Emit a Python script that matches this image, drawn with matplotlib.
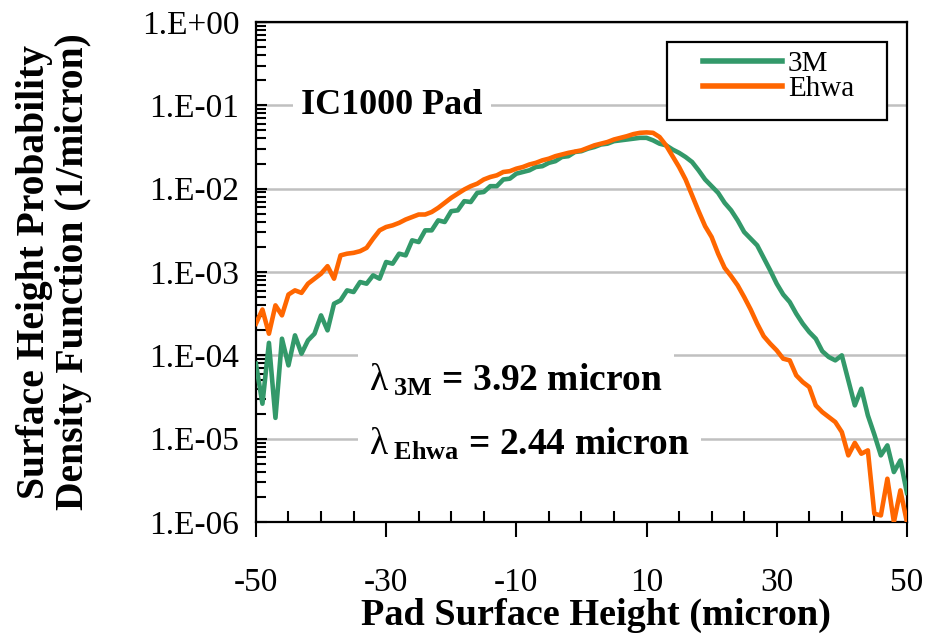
import numpy as np
import matplotlib
matplotlib.use("Agg")
from matplotlib import pyplot as plt
from matplotlib.patches import Rectangle
from matplotlib.ticker import FixedLocator, MultipleLocator, LogLocator, NullFormatter

plt.rcParams['font.family'] = ['Liberation Serif', 'DejaVu Serif']
plt.rcParams['axes.unicode_minus'] = False
plt.rcParams['mathtext.fontset'] = 'custom'
plt.rcParams['mathtext.rm'] = 'Liberation Serif'
plt.rcParams['mathtext.bf'] = 'Liberation Serif:bold'
plt.rcParams['mathtext.it'] = 'Liberation Serif:italic'

# pad surface height (micron)
height = np.arange(-50, 51, 1)

# log10 of the probability density (1/micron)
log_ehwa = [-3.62, -3.45, -3.74, -3.40, -3.52, -3.27, -3.22, -3.25, -3.14, -3.08,
            -3.02, -2.93, -3.08, -2.80, -2.78, -2.77, -2.75, -2.71, -2.60, -2.50,
            -2.46, -2.44, -2.41, -2.37, -2.34, -2.31, -2.31, -2.28, -2.23, -2.17,
            -2.11, -2.06, -2.01, -1.97, -1.94, -1.89, -1.86, -1.84, -1.80, -1.79,
            -1.76, -1.74, -1.71, -1.69, -1.66, -1.64, -1.61, -1.59, -1.57, -1.555,
            -1.54, -1.51, -1.48, -1.46, -1.44, -1.41, -1.39, -1.37, -1.345, -1.33,
            -1.325, -1.33, -1.38, -1.48, -1.61, -1.74, -1.89, -2.08, -2.27, -2.45,
            -2.58, -2.78, -2.95, -3.05, -3.16, -3.30, -3.45, -3.62, -3.77, -3.86,
            -3.94, -4.04, -4.06, -4.24, -4.32, -4.38, -4.60, -4.68, -4.74, -4.80,
            -4.92, -5.20, -5.05, -5.18, -5.14, -5.90, -5.92, -5.48, -6.00, -5.62,
            -6.00]

log_3m = [-4.10, -4.58, -3.85, -4.75, -3.80, -4.12, -3.76, -3.98, -3.82, -3.74,
          -3.52, -3.70, -3.38, -3.34, -3.22, -3.24, -3.12, -3.14, -3.04, -3.08,
          -2.88, -2.90, -2.78, -2.80, -2.62, -2.64, -2.50, -2.50, -2.38, -2.40,
          -2.27, -2.26, -2.15, -2.16, -2.05, -2.04, -1.97, -1.97, -1.89, -1.88,
          -1.82, -1.80, -1.78, -1.74, -1.73, -1.69, -1.67, -1.62, -1.61, -1.56,
          -1.55, -1.52, -1.50, -1.47, -1.46, -1.43, -1.42, -1.41, -1.40, -1.39,
          -1.39, -1.42, -1.46, -1.48, -1.53, -1.57, -1.62, -1.68, -1.78, -1.89,
          -1.97, -2.05, -2.17, -2.26, -2.38, -2.52, -2.60, -2.68, -2.83, -2.98,
          -3.14, -3.27, -3.36, -3.50, -3.62, -3.72, -3.80, -3.95, -4.02, -4.06,
          -4.00, -4.30, -4.60, -4.40, -4.72, -4.95, -5.20, -5.08, -5.40, -5.26,
          -5.65]

decades = [-6, -5, -4, -3, -2, -1, 0]
decade_labels = ['1.E-06', '1.E-05', '1.E-04', '1.E-03', '1.E-02', '1.E-01', '1.E+00']

pdf_3m = 10.0 ** np.array(log_3m)
pdf_ehwa = 10.0 ** np.array(log_ehwa)

green = '#33996A'
orange = '#FF6600'

fig = plt.figure(figsize=(9.34, 6.39), dpi=100)
ax = fig.add_axes([0.274, 0.183, 0.697, 0.7826])

ax.plot(height, pdf_3m, color=green, lw=3.3, label='3M', zorder=3)
ax.plot(height, pdf_ehwa, color=orange, lw=3.3, label='Ehwa', zorder=3)

ax.set_yscale('log')
ax.set_xlim(-50, 50)
ax.set_ylim(1e-6, 1)
ax.xaxis.set_major_locator(FixedLocator([-50, -30, -10, 10, 30, 50]))
ax.xaxis.set_minor_locator(MultipleLocator(5))
ax.set_yticks([10.0 ** d for d in decades])
ax.set_yticklabels(decade_labels)
ax.yaxis.set_minor_locator(LogLocator(base=10, subs=np.arange(2, 10), numticks=10))
ax.yaxis.set_minor_formatter(NullFormatter())

ax.tick_params(axis='x', which='major', direction='out', length=11, width=1.5,
               labelsize=24, pad=22)
ax.tick_params(axis='x', which='minor', direction='in', length=8, width=1.5)
ax.tick_params(axis='y', which='major', direction='in', length=8, width=1.5,
               labelsize=24, pad=12)
ax.tick_params(axis='y', which='minor', direction='in', length=7, width=1.5)

for s in ax.spines.values():
    s.set_linewidth(1.6)

ax.grid(axis='y', which='major', color='#C0C0C0', lw=1.8)
ax.set_axisbelow(True)

ax.set_xlabel('Pad Surface Height (micron)', fontsize=27.5, fontweight='bold', va='center')
ax.xaxis.set_label_coords(0.522, -0.186)
ax.set_ylabel('Surface Height Probability\nDensity Function (1/micron)',
              fontsize=28.5, fontweight='bold', linespacing=1.05, va='center')
ax.yaxis.set_label_coords(-0.31, 0.5)

ax.text(-43, 0.1, 'IC1000 Pad', fontsize=26, fontweight='bold', va='center',
        bbox=dict(facecolor='white', edgecolor='none', pad=6), zorder=2)
ax.text(-32.6, 10 ** -4.3, r'$\mathrm{\lambda}_{\ \mathbf{3M}}$ = 3.92 micron', fontsize=27,
        fontweight='bold', va='center',
        bbox=dict(facecolor='white', edgecolor='none', pad=8), zorder=2)
ax.text(-32.6, 10 ** -5.07, r'$\mathrm{\lambda}_{\ \mathbf{Ehwa}}$ = 2.44 micron', fontsize=27,
        fontweight='bold', va='center',
        bbox=dict(facecolor='white', edgecolor='none', pad=8), zorder=2)

# legend frame drawn separately (wide Excel-style box)
ax.add_patch(Rectangle((0.631, 0.804), 0.338, 0.156, transform=ax.transAxes,
                       facecolor='white', edgecolor='black', lw=1.6, zorder=4))
leg = ax.legend(loc='upper left', bbox_to_anchor=(0.687, 0.942), fontsize=21,
                frameon=False, handlelength=2.7, labelspacing=-0.05,
                borderpad=0, handletextpad=0.2, borderaxespad=0)
leg.set_zorder(5)
for h in leg.get_lines():
    h.set_linewidth(4)

fig.savefig('out.png', dpi=100)
